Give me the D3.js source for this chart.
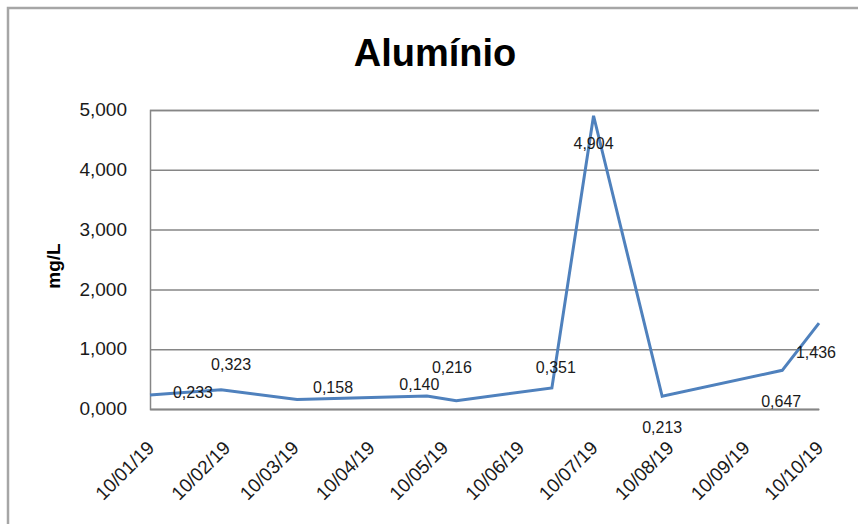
<!DOCTYPE html>
<html>
<head>
<meta charset="utf-8">
<script src="https://cdn.jsdelivr.net/npm/d3@7"></script>
<style>
  body { margin: 0; background: #fff; }
  text { font-family: "Liberation Sans", Arial, sans-serif; }
</style>
</head>
<body>
<div class="chart"></div>
<script>
"use strict";

// sample dates (dd/mm/yy) and aluminium values in mg/L
var sampleDates = ["10/01/19", "08/02/19", "11/03/19", "03/05/19", "15/05/19",
                   "23/06/19", "10/07/19", "07/08/19", "25/09/19", "10/10/19"];
var aluminio = [0.233, 0.323, 0.158, 0.216, 0.140, 0.351, 4.904, 0.213, 0.647, 1.436];
var tickLabels = ["10/01/19", "10/02/19", "10/03/19", "10/04/19", "10/05/19",
                  "10/06/19", "10/07/19", "10/08/19", "10/09/19", "10/10/19"];
var yTicks = [0, 1, 2, 3, 4, 5];

// where each data label sits relative to its point (moved by hand in the original)
var labelNudge = [[43, -3], [10, -25], [36, -12], [25, -29], [-37, -16],
                  [4, -21], [0, 28], [0, 31], [-1, 31], [-3, 29]];

var width = 858,
    height = 524;

var parse = d3.timeParse("%d/%m/%y");
var ptBR = d3.formatLocale({ decimal: ",", thousands: ".", grouping: [3], currency: ["R$", ""] });
var fmt = ptBR.format(".3f");

var data = sampleDates.map(function(d, i){ return { date: parse(d), value: aluminio[i] }; });

var svg = d3.select(".chart")
          .append("svg")
          .attr("width", width)
          .attr("height", height);

// outer chart border
svg.append("rect")
    .attr("x", 8).attr("y", 8)
    .attr("width", width + 20).attr("height", height + 20)
    .attr("fill", "none")
    .attr("stroke", "#a6a6a6")
    .attr("stroke-width", 2.5);

var x = d3.scaleTime()
    .domain([parse(tickLabels[0]), parse(tickLabels[tickLabels.length - 1])])
    .range([150, 819]);

var y = d3.scaleLinear()
    .domain([0, 5])
    .range([409, 110]);

// title
svg.append("text")
    .attr("x", 435).attr("y", 66)
    .attr("text-anchor", "middle")
    .style("font-size", "38px")
    .style("font-weight", "bold")
    .style("fill", "#000")
    .text("Alumínio");

// gridlines + y axis
var yAxis = svg.append("g")
    .attr("transform", "translate(150,0)")
    .call(d3.axisLeft(y).tickValues(yTicks).tickFormat(fmt).tickSize(-669).tickPadding(23));

yAxis.select(".domain").attr("stroke", "#868686").attr("stroke-width", 1.5);
yAxis.selectAll(".tick line").attr("stroke", "#868686").attr("stroke-width", 1.5);
yAxis.selectAll(".tick text")
    .style("font-size", "19px")
    .style("font-family", "'Liberation Sans', Arial, sans-serif")
    .attr("fill", "#1a1a1a")
    .attr("dy", "0.3em");

// x axis labels
var xAxis = svg.append("g")
    .attr("transform", "translate(0,409)")
    .call(d3.axisBottom(x).tickValues(tickLabels.map(parse)).tickFormat(d3.timeFormat("%d/%m/%y")).tickSize(0));

xAxis.select(".domain").attr("stroke", "#868686").attr("stroke-width", 1.5);
xAxis.selectAll(".tick text")
    .style("font-size", "19px")
    .style("font-family", "'Liberation Sans', Arial, sans-serif")
    .attr("fill", "#1a1a1a")
    .attr("text-anchor", "end")
    .attr("y", 0).attr("dy", 0)
    .attr("transform", "translate(5,40) rotate(-45)");

// y axis title
svg.append("text")
    .attr("transform", "translate(60,266) rotate(-90)")
    .attr("text-anchor", "middle")
    .style("font-size", "19px")
    .style("font-weight", "bold")
    .style("fill", "#000")
    .text("mg/L");

// the series line
var line = d3.line()
    .x(function(d){ return x(d.date); })
    .y(function(d){ return y(d.value); });

svg.append("path")
    .datum(data)
    .attr("d", line)
    .attr("fill", "none")
    .attr("stroke", "#4f81bd")
    .attr("stroke-width", 3)
    .attr("stroke-linejoin", "miter");

// data labels
svg.append("g")
    .selectAll("text")
    .data(data)
    .enter().append("text")
        .attr("x", function(d, i){ return x(d.date) + labelNudge[i][0]; })
        .attr("y", function(d, i){ return y(d.value) + labelNudge[i][1]; })
        .attr("text-anchor", "middle")
        .attr("dy", "0.35em")
        .style("font-size", "16px")
        .style("fill", "#1a1a1a")
        .text(function(d){ return fmt(d.value); });
</script>
</body>
</html>
